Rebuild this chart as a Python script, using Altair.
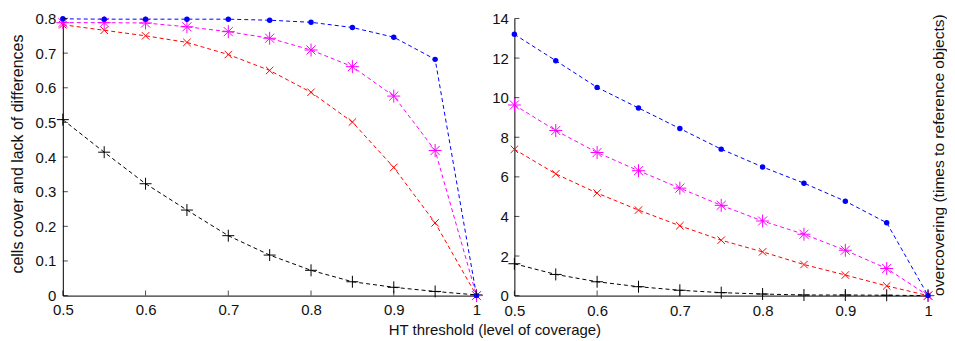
import altair as alt
import pandas as pd

threshold = [0.5, 0.55, 0.6, 0.65, 0.7, 0.75, 0.8, 0.85, 0.9, 0.95, 1.0]

# left panel: cells cover and lack of differences
cover_dots = [0.799, 0.798, 0.798, 0.798, 0.798, 0.795, 0.789, 0.774, 0.746, 0.682, 0.0]
cover_stars = [0.788, 0.788, 0.787, 0.776, 0.762, 0.743, 0.709, 0.661, 0.576, 0.419, 0.0]
cover_crosses = [0.782, 0.766, 0.750, 0.731, 0.696, 0.650, 0.587, 0.501, 0.370, 0.210, 0.0]
cover_plus = [0.508, 0.414, 0.323, 0.247, 0.173, 0.117, 0.073, 0.040, 0.024, 0.012, 0.002]

# right panel: overcovering (times to reference objects)
over_dots = [13.20, 11.87, 10.52, 9.48, 8.44, 7.40, 6.50, 5.68, 4.77, 3.68, 0.0]
over_stars = [9.63, 8.34, 7.23, 6.31, 5.43, 4.56, 3.77, 3.10, 2.29, 1.37, 0.0]
over_crosses = [7.39, 6.15, 5.18, 4.32, 3.53, 2.80, 2.21, 1.57, 1.04, 0.49, 0.0]
over_plus = [1.61, 1.07, 0.70, 0.45, 0.27, 0.15, 0.08, 0.03, 0.03, 0.02, 0.0]

x_ticks = [0.5, 0.6, 0.7, 0.8, 0.9, 1.0]
left_y_ticks = [0, 0.1, 0.2, 0.3, 0.4, 0.5, 0.6, 0.7, 0.8]
right_y_ticks = [0, 2, 4, 6, 8, 10, 12, 14]

x_title = "HT threshold (level of coverage)"
left_y_title = "cells cover and lack of differences"
right_y_title = "overcovering (times to reference objects)"

PLUS = "M-1,0L1,0M0,-1L0,1"
CROSS = "M-1,-1L1,1M-1,1L1,-1"
STAR = "M-1,0L1,0M0,-1L0,1M-0.7,-0.7L0.7,0.7M-0.7,0.7L0.7,-0.7"

W = 415
H = 278
FONT = "Liberation Sans"


def make_panel(series, y_ticks, y_domain, y_axis, x_axis):
    xs = alt.Scale(domain=[0.5, 1.0], nice=False, zero=False)
    ys = alt.Scale(domain=y_domain, nice=False)
    X = alt.X("x:Q", scale=xs, axis=x_axis)
    Y = alt.Y("y:Q", scale=ys, axis=y_axis)
    layers = []
    styles = [
        ("plus", "#000000", PLUS, 144, False),
        ("crosses", "#ff0000", CROSS, 56, False),
        ("stars", "#ff00ff", STAR, 169, False),
        ("dots", "#0000ff", "circle", 30, True),
    ]
    for name, color, shape, size, filled in styles:
        df = pd.DataFrame({"x": threshold, "y": series[name]})
        base = alt.Chart(df)
        layers.append(
            base.mark_line(color=color, strokeDash=[4, 3], strokeWidth=1).encode(x=X, y=Y)
        )
        layers.append(
            base.mark_point(shape=shape, size=size, filled=filled, color=color,
                            strokeWidth=1, opacity=1).encode(x=X, y=Y)
        )
    xt = alt.Chart(pd.DataFrame({"x": x_ticks})).mark_tick(
        orient="vertical", color="black", thickness=1, size=5, yOffset=-2.5
    ).encode(x=X, y=alt.value(H))
    yt = alt.Chart(pd.DataFrame({"y": y_ticks})).mark_tick(
        orient="horizontal", color="black", thickness=1, size=5, xOffset=2.5
    ).encode(y=Y, x=alt.value(0))
    return alt.layer(*layers, xt, yt).properties(width=W, height=H)


left_axis_x = alt.Axis(values=x_ticks, format="~g", title=x_title,
                       titleX=433, titleY=39, titleAlign="center",
                       titleBaseline="alphabetic", titleFontSize=15)
left_axis_y = alt.Axis(values=left_y_ticks, format="~g", title=left_y_title,
                       titleX=-40, titleY=135.5, titleAlign="center",
                       titleBaseline="alphabetic", titleAngle=270, labelPadding=7)
right_axis_x = alt.Axis(values=x_ticks, format="~g", title=None, labelPadding=8)
right_axis_y = alt.Axis(values=right_y_ticks, format="~g", title=right_y_title,
                        titleX=430, titleY=136.5, titleAlign="center",
                        titleBaseline="alphabetic", titleAngle=270,
                        titleFontSize=15.6, labelPadding=6)

left = make_panel(
    {"dots": cover_dots, "stars": cover_stars, "crosses": cover_crosses, "plus": cover_plus},
    left_y_ticks, [0, 0.8], left_axis_y, left_axis_x,
)
right = make_panel(
    {"dots": over_dots, "stars": over_stars, "crosses": over_crosses, "plus": over_plus},
    right_y_ticks, [0, 14], right_axis_y, right_axis_x,
)

chart = alt.hconcat(left, right, spacing=38, bounds="flush").properties(
    padding={"left": 1, "top": 3, "right": 0, "bottom": 0}
).configure_axis(
    domainColor="black",
    domainWidth=1,
    ticks=False,
    grid=False,
    labelFlush=False,
    labelOverlap=False,
    labelFont=FONT,
    labelFontSize=15,
    labelColor="#111111",
    labelPadding=7,
    titleFont=FONT,
    titleFontSize=16,
    titleFontWeight="normal",
    titleColor="#111111",
).configure_view(stroke=None)

chart.save("out.html", embed_options={"renderer": "svg", "actions": False})
